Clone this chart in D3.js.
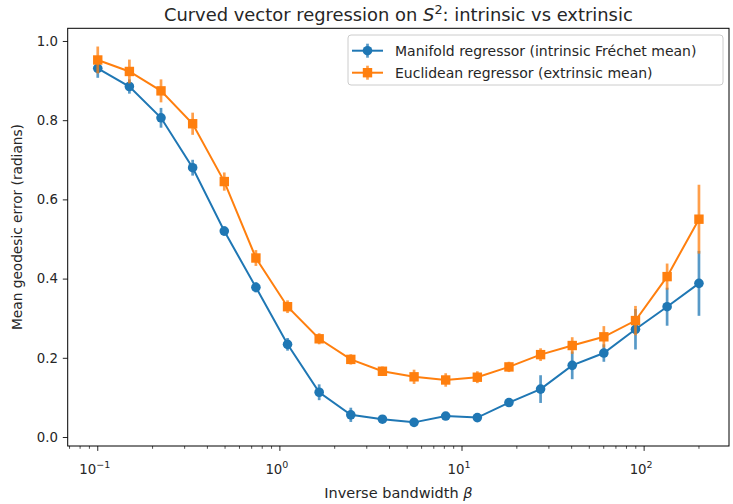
<!DOCTYPE html>
<html><head><meta charset="utf-8">
<script src="https://cdn.jsdelivr.net/npm/d3@7"></script>
<style>body{margin:0;background:#fff}svg{display:block;font-family:"DejaVu Sans",sans-serif}</style>
</head><body>
<svg id="c" width="733" height="504"></svg>
<script>
const betas = [0.1, 0.14917, 0.22251, 0.33192, 0.49512, 0.73857, 1.10172, 1.64342, 2.45148, 3.65685, 5.45484, 8.13689, 12.1377, 18.1058, 27.0082, 40.2878, 60.0967, 89.6456, 133.724, 200];
const manifoldMean = [0.931, 0.885, 0.806, 0.680, 0.520, 0.378, 0.234, 0.113, 0.056, 0.045, 0.037, 0.053, 0.049, 0.087, 0.121, 0.181, 0.212, 0.272, 0.329, 0.388];
const manifoldErr  = [0.024, 0.018, 0.025, 0.020, 0.012, 0.013, 0.016, 0.020, 0.018, 0.008, 0.006, 0.009, 0.007, 0.009, 0.035, 0.035, 0.022, 0.051, 0.048, 0.082];
const euclidMean   = [0.952, 0.923, 0.874, 0.791, 0.645, 0.452, 0.329, 0.248, 0.196, 0.166, 0.152, 0.144, 0.151, 0.177, 0.208, 0.231, 0.253, 0.294, 0.405, 0.550];
const euclidErr    = [0.034, 0.030, 0.029, 0.028, 0.023, 0.020, 0.016, 0.014, 0.013, 0.012, 0.018, 0.017, 0.015, 0.013, 0.016, 0.021, 0.027, 0.037, 0.033, 0.087];
const yTicks = [0.0, 0.2, 0.4, 0.6, 0.8, 1.0];
const xTicks = [0.1, 1, 10, 100];
const xTickExp = ["\u22121", "0", "1", "2"];
const seriesNames = ["Manifold regressor (intrinsic Fr\u00e9chet mean)", "Euclidean regressor (extrinsic mean)"];
const colors = ["#1f77b4", "#ff7f0e"];

const L = 67.7, R = 729, T = 28.3, B = 446;
const svg = d3.select("#c");
const x = d3.scaleLog().domain([Math.pow(10, -1.165), Math.pow(10, 2.466)]).range([L, R]);
const y = d3.scaleLinear().domain([-0.0227, 1.032]).range([B, T]);

// axes
const fs = 13.3;
const yAxis = d3.axisLeft(y).tickValues(yTicks).tickFormat(d3.format(".1f")).tickSize(4.9).tickPadding(4.9);
const gy = svg.append("g").attr("transform", `translate(${L},0)`).call(yAxis);
gy.select(".domain").remove();
gy.selectAll("text").attr("font-size", fs).attr("fill", "#262626").attr("font-family", "DejaVu Sans");
gy.selectAll("line").attr("stroke", "#262626").attr("stroke-width", 1);

// x minor ticks
const minor = [];
for (let e = -2; e <= 2; e++) for (let k = 2; k <= 9; k++) { const v = k * Math.pow(10, e); if (v >= x.domain()[0] && v <= x.domain()[1]) minor.push(v); }
svg.append("g").selectAll("line").data(minor).join("line")
  .attr("x1", d => x(d)).attr("x2", d => x(d)).attr("y1", B).attr("y2", B + 2.8)
  .attr("stroke", "#262626").attr("stroke-width", 0.8);
const gx = svg.append("g");
gx.selectAll("line").data(xTicks).join("line")
  .attr("x1", d => x(d)).attr("x2", d => x(d)).attr("y1", B).attr("y2", B + 4.9)
  .attr("stroke", "#262626").attr("stroke-width", 1);
const xt = gx.selectAll("text").data(xTicks).join("text")
  .attr("x", d => x(d) - 3).attr("y", 474).attr("text-anchor", "middle")
  .attr("font-size", fs).attr("fill", "#262626");
xt.append("tspan").text("10");
xt.append("tspan").attr("dy", -6).attr("font-size", 9.5).text((d, i) => xTickExp[i]);

// series
function drawSeries(means, errs, color, shape) {
  const g = svg.append("g");
  const pts = betas.map((b, i) => ({b, m: means[i], e: errs[i]}));
  g.append("path").datum(pts)
    .attr("d", d3.line().x(d => x(d.b)).y(d => y(d.m)))
    .attr("fill", "none").attr("stroke", color).attr("stroke-width", 2);
  g.selectAll("line.err").data(pts).join("line").attr("class", "err")
    .attr("x1", d => x(d.b)).attr("x2", d => x(d.b))
    .attr("y1", d => y(d.m - d.e)).attr("y2", d => y(d.m + d.e))
    .attr("stroke", color).attr("stroke-width", 2.7).attr("stroke-opacity", 0.75);
  if (shape === "circle") {
    g.selectAll("circle").data(pts).join("circle")
      .attr("cx", d => x(d.b)).attr("cy", d => y(d.m)).attr("r", 4.8).attr("fill", color);
  } else {
    g.selectAll("rect").data(pts).join("rect")
      .attr("x", d => x(d.b) - 4.7).attr("y", d => y(d.m) - 4.7).attr("width", 9.4).attr("height", 9.4).attr("fill", color);
  }
}
drawSeries(manifoldMean, manifoldErr, colors[0], "circle");
drawSeries(euclidMean, euclidErr, colors[1], "square");

// frame
svg.append("rect").attr("x", L).attr("y", T).attr("width", R - L).attr("height", B - T)
  .attr("fill", "none").attr("stroke", "#000").attr("stroke-width", 1);

// title
const title = svg.append("text").attr("x", (L + R) / 2).attr("y", 21).attr("text-anchor", "middle")
  .attr("font-size", 17.9).attr("fill", "#262626");
title.append("tspan").text("Curved vector regression on ");
title.append("tspan").attr("font-style", "italic").text("S");
title.append("tspan").attr("dy", -7).attr("font-size", 12.8).text("2");
title.append("tspan").attr("dy", 7).text(": intrinsic vs extrinsic");

// axis labels
const xl = svg.append("text").attr("x", (L + R) / 2).attr("y", 498).attr("text-anchor", "middle")
  .attr("font-size", 14.5).attr("fill", "#262626");
xl.append("tspan").text("Inverse bandwidth ");
xl.append("tspan").attr("font-style", "italic").text("\u03b2");
svg.append("text").attr("transform", `translate(22,227) rotate(-90)`).attr("text-anchor", "middle")
  .attr("font-size", 13.7).attr("fill", "#262626").text("Mean geodesic error (radians)");

// legend
const lg = svg.append("g");
lg.append("rect").attr("x", 348).attr("y", 35).attr("width", 375).attr("height", 50).attr("rx", 3)
  .attr("fill", "#fff").attr("fill-opacity", 0.8).attr("stroke", "#cccccc").attr("stroke-width", 1);
seriesNames.forEach((name, i) => {
  const cy = 50.7 + i * 22;
  lg.append("line").attr("x1", 352).attr("x2", 383).attr("y1", cy).attr("y2", cy).attr("stroke", colors[i]).attr("stroke-width", 2);
  lg.append("line").attr("x1", 367.5).attr("x2", 367.5).attr("y1", cy - 7).attr("y2", cy + 7).attr("stroke", colors[i]).attr("stroke-width", 2.7).attr("stroke-opacity", 0.75);
  if (i === 0) lg.append("circle").attr("cx", 367.5).attr("cy", cy).attr("r", 4.8).attr("fill", colors[i]);
  else lg.append("rect").attr("x", 367.5 - 4.7).attr("y", cy - 4.7).attr("width", 9.4).attr("height", 9.4).attr("fill", colors[i]);
  lg.append("text").attr("x", 395).attr("y", cy + 5).attr("font-size", 14).attr("fill", "#262626").text(name);
});
</script>
</body></html>
